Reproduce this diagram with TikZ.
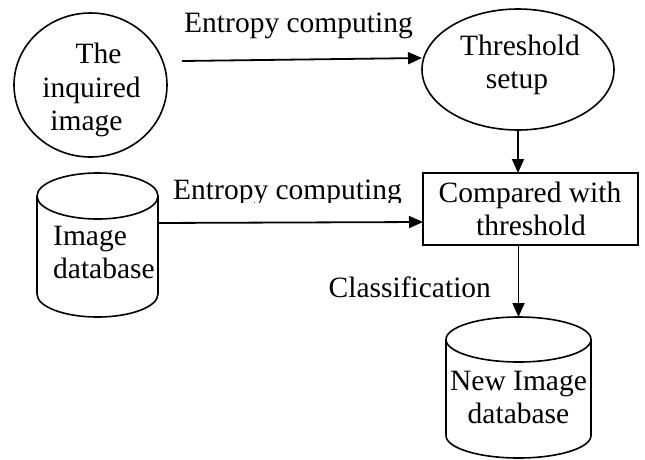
\documentclass[tikz,border=0pt]{standalone}
\usepackage{fontspec}
\setmainfont{Liberation Serif}
\usetikzlibrary{arrows.meta,shapes.geometric}
\begin{document}
\begin{tikzpicture}[x=1pt,y=-1pt,
  txt/.style={font=\fontsize{29.5}{33.5}\selectfont, inner sep=0pt, anchor=base},
  txtl/.style={txt, anchor=base west},
  outline/.style={draw=black, line width=1.6pt},
  area/.style={inner sep=0pt, outer sep=0pt},
  flow/.style={line width=1.8pt, -{Triangle[length=14pt,width=12pt]}}]
\useasboundingbox[fill=white] (0,0) rectangle (645,459);

% shapes
\node[outline, ellipse, area, minimum width=153pt, minimum height=144pt] (inq) at (90.5,85) {};
\node[outline, ellipse, area, minimum width=192pt, minimum height=121pt] (thr) at (518,69.5) {};
\node[outline, rectangle, area, minimum width=215pt, minimum height=72pt] (cmp) at (530.5,209) {};
\node[area, minimum width=121pt, minimum height=144pt] (idb) at (97.5,245) {};
\node[area, minimum width=145pt, minimum height=141pt] (ndb) at (518.5,387.5) {};

% database cylinders
\draw[outline] ([yshift=-23pt]idb.north west) -- ([yshift=23pt]idb.south west)
  arc[start angle=180, end angle=360, x radius=60.5pt, y radius=23pt]
  -- ([yshift=-23pt]idb.north east);
\draw[outline] ([yshift=-23pt]idb.north) ellipse[x radius=60.5pt, y radius=23pt];
\draw[outline] ([yshift=-22.5pt]ndb.north west) -- ([yshift=22.5pt]ndb.south west)
  arc[start angle=180, end angle=360, x radius=72.5pt, y radius=22.5pt]
  -- ([yshift=-22.5pt]ndb.north east);
\draw[outline] ([yshift=-22.5pt]ndb.north) ellipse[x radius=72.5pt, y radius=22.5pt];

% texts
\node[txt] (inqa) at (98.5,63.5) {The};
\node[txt] (inqb) at (91.5,97.5) {inquired};
\node[txt] (inqc) at (86.5,130) {image};
\node[txt] (thra) at (520,55) {Threshold};
\node[txt] (thrb) at (517,88) {setup};
\node[txt] (cmpa) at (530,202) {Compared with};
\node[txt] (cmpb) at (531,235) {threshold};
\node[txtl] (idba) at (53,245) {Image};
\node[txtl] (idbb) at (53,278) {database};
\node[txt] (ndba) at (518.5,390) {New Image};
\node[txt] (ndbb) at (518.5,423) {database};

% connector labels
\node[txtl] (lab1) at (184,32) {Entropy computing};
\begin{scope}
  \clip (150,170) rectangle (420,202);
  \node[txtl] (lab2) at (173,199) {Entropy computing};
\end{scope}
\node[txtl] (lab3) at (328.5,297) {Classification};

% connectors
\coordinate (start1) at (182,61);
\draw[flow] (start1) -- (thr.west |- 0,58);
\draw[flow] (idb.20) -- (cmp.west |- 0,222);
\draw[flow] (thr.south) -- (thr.south |- cmp.north);
\draw[flow] (cmp.south -| ndb.north) -- (ndb.north);
\end{tikzpicture}
\end{document}
